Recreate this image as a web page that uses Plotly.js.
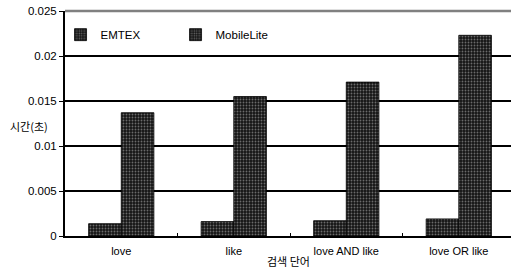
<!DOCTYPE html>
<html><head><meta charset="utf-8">
<script src="https://cdn.plot.ly/plotly-3.0.1.min.js"></script>
<style>html,body{margin:0;padding:0;overflow:hidden;background:#fff}</style>
</head><body><div id="chart" style="width:511px;height:269px"></div>
<script>
const categories = ["love", "like", "love AND like", "love OR like"];
const emtex = [0.00137, 0.0016, 0.0017, 0.0019];
const mobileLite = [0.0137, 0.0155, 0.0171, 0.0223];
const yTicks = [0, 0.005, 0.01, 0.015, 0.02, 0.025];
const yTickText = ["0", "0.005", "0.01", "0.015", "0.02", "0.025"];

const pat = {shape: '.', bgcolor: '#151515', fgcolor: '#6a6a6a', size: 3, solidity: 0.3, fillmode: 'replace'};
const traces = [
  {type: 'bar', name: 'EMTEX', x: categories, y: emtex,
   marker: {color: '#151515', pattern: pat, line: {color: '#000', width: 0.8}}},
  {type: 'bar', name: 'MobileLite', x: categories, y: mobileLite,
   marker: {color: '#151515', pattern: pat, line: {color: '#000', width: 0.8}}}
];
const font = {family: '"Liberation Sans", Arial, "Noto Sans CJK KR", sans-serif', size: 11, color: '#000'};
const layout = {
  width: 511, height: 269,
  margin: {l: 65, r: 0, t: 11, b: 33},
  paper_bgcolor: '#fff', plot_bgcolor: '#fff',
  font: font,
  barmode: 'group', bargap: 0.42, bargroupgap: 0,
  showlegend: true,
  legend: {orientation: 'h', x: -0.01, y: 0.895, xanchor: 'left', yanchor: 'middle',
           font: {size: 11.5}, itemwidth: 30, entrywidth: 70, bgcolor: 'rgba(0,0,0,0)'},
  xaxis: {type: 'category', range: [-0.5, 3.464], tickson: 'boundaries', ticks: 'inside', ticklen: 3,
          tickcolor: '#000', showgrid: false, showline: true, linecolor: '#000', linewidth: 2,
          tickfont: {size: 11}, zeroline: false, ticklabelstandoff: 4},
  yaxis: {range: [0, 0.025], tickvals: yTicks, ticktext: yTickText, ticks: 'outside', ticklen: 4,
          tickcolor: '#000', showgrid: true, gridcolor: '#000', gridwidth: 1.5,
          showline: true, linecolor: '#000', linewidth: 2, zeroline: false, tickfont: {size: 11.5}},
  shapes: [{type: 'line', xref: 'paper', yref: 'paper', x0: 0, x1: 1, y0: 1, y1: 1,
            line: {color: '#808080', width: 2.5}}],
  annotations: [
    {text: '시간(초)', xref: 'paper', yref: 'paper', x: -0.08, y: 0.49, xanchor: 'center', yanchor: 'middle',
     showarrow: false, font: {family: '"Noto Sans CJK KR", sans-serif', size: 11}},
    {text: '검색 단어', xref: 'paper', yref: 'paper', x: 0.5, y: -0.11, xanchor: 'center', yanchor: 'middle',
     showarrow: false, font: {family: '"Noto Sans CJK KR", sans-serif', size: 11}}
  ]
};
Plotly.newPlot('chart', traces, layout, {displayModeBar: false, staticPlot: true});
</script></body></html>
